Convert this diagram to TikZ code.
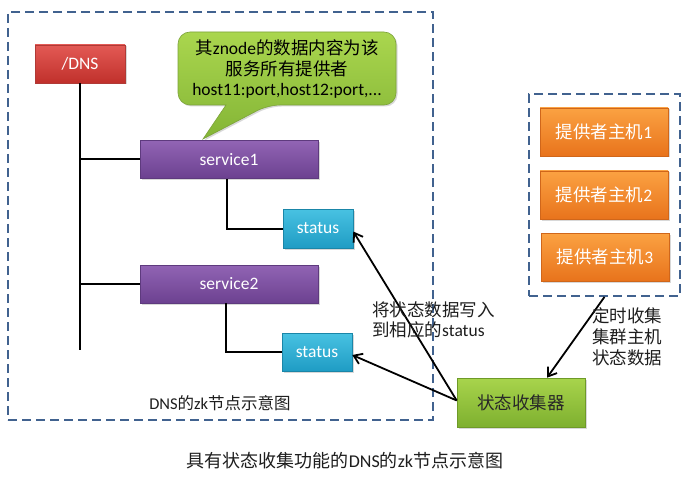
\documentclass[tikz,border=0pt]{standalone}
\usepackage{fontspec}
\setmainfont{Carlito}
\newfontfamily\cjkfont{Noto Sans CJK SC}
\usetikzlibrary{arrows.meta,shadows}
\newcommand\zhs[1]{{\cjkfont #1}}
\definecolor{dashc}{HTML}{41628F}
\tikzset{
  box/.style={draw, line width=0.6pt, inner sep=0pt, text=white,
    font=\fontsize{17.5}{20}\selectfont,
    drop shadow={shadow xshift=1.5pt, shadow yshift=-1.5pt, opacity=0.3}},
  redbox/.style={box, draw={rgb,255:red,176;green,58;blue,54}, top color={rgb,255:red,227;green,90;blue,85}, bottom color={rgb,255:red,192;green,48;blue,43}},
  purplebox/.style={box, draw={rgb,255:red,94;green,58;blue,126}, top color={rgb,255:red,145;green,100;blue,180}, bottom color={rgb,255:red,108;green,65;blue,144}},
  cyanbox/.style={box, draw={rgb,255:red,26;green,134;blue,168}, top color={rgb,255:red,72;green,194;blue,226}, bottom color={rgb,255:red,31;green,156;blue,196}},
  orangebox/.style={box, draw={rgb,255:red,208;green,102;blue,26}, top color={rgb,255:red,251;green,162;blue,66}, bottom color={rgb,255:red,232;green,115;blue,28}},
  greenbox/.style={box, text={rgb,255:red,40;green,40;blue,40}, draw={rgb,255:red,110;green,154;blue,40}, top color={rgb,255:red,168;green,212;blue,76}, bottom color={rgb,255:red,126;green,176;blue,47}},
  calloutshape/.style={draw={rgb,255:red,124;green,163;blue,58}, line width=0.6pt, top color={rgb,255:red,170;green,214;blue,78}, bottom color={rgb,255:red,132;green,181;blue,54},
    drop shadow={shadow xshift=1.5pt, shadow yshift=-1.5pt, opacity=0.3}},
  dashbox/.style={draw=dashc, line width=1.8pt, dash pattern=on 9pt off 5pt, inner sep=0pt},
  conn/.style={line width=2pt},
  arr/.style={line width=1.8pt, -{Straight Barb[length=8pt,width=11pt]}},
  lbl/.style={font=\fontsize{17.5}{20}\selectfont, text={rgb,255:red,30;green,30;blue,30}, inner sep=0pt}
}
\begin{document}
\begin{tikzpicture}[x=1pt,y=-1pt]
\useasboundingbox[fill=white] (0,0) rectangle (690,481);

% dashed frames
\node[dashbox, minimum width=425pt, minimum height=408pt] (leftframe) at (220.5,216) {};
\node[dashbox, minimum width=151pt, minimum height=202pt] (rightframe) at (604.5,195) {};

% tree nodes
\node[redbox, minimum width=90pt, minimum height=38pt] (dns) at (80,64) {/DNS};
\node[purplebox, minimum width=178pt, minimum height=38pt] (s1) at (229,159.5) {service1};
\node[cyanbox, minimum width=70pt, minimum height=39pt] (st1) at (318,228.5) {status};
\node[purplebox, minimum width=178pt, minimum height=38pt] (s2) at (229,284) {service2};
\node[cyanbox, minimum width=70pt, minimum height=38pt] (st2) at (317,352) {status};
\coordinate (busend) at (80,350);

\draw[conn] (dns.south) -- (busend);
\draw[conn] (dns.south |- s1.west) -- (s1.west);
\draw[conn] (dns.south |- s2.west) -- (s2.west);
\draw[conn] ([xshift=-2pt]s1.south) |- (st1.west);
\draw[conn] ([xshift=-3pt]s2.south) |- (st2.west);

% callout
\path[calloutshape] (396,68) [rounded corners=12pt] -- (396,105) -- (268,105) [sharp corners] -- (203,139) -- (226,105) [rounded corners=12pt] -- (178,105) -- (178,32) -- (396,32) -- cycle;
\node[lbl, align=center, text=black, font=\fontsize{17.5}{20}\selectfont] (callout) at (287,69)
  {\zhs{其}znode\zhs{的数据内容为该}\\\zhs{服务所有提供者}\\host11:port,host12:port,...};

% providers
\node[orangebox, minimum width=128pt, minimum height=48pt] (h1) at (604,132) {\zhs{提供者主机}1};
\node[orangebox, minimum width=128pt, minimum height=48pt] (h2) at (604,195) {\zhs{提供者主机}2};
\node[orangebox, minimum width=128pt, minimum height=48pt] (h3) at (605,257) {\zhs{提供者主机}3};

% collector
\node[greenbox, minimum width=128pt, minimum height=49pt] (coll) at (521,402.5) {\zhs{状态收集器}};

\draw[arr] (rightframe.south) -- ([xshift=26pt]coll.north);
\draw[arr] ([yshift=2pt]coll.west) -- ([yshift=-3pt]st1.east);
\draw[arr] ([yshift=2pt]coll.west) -- ([yshift=-3pt]st2.east);

% labels
\node[lbl, anchor=north west, align=left] (writelbl) at (372,302)
  {\zhs{将状态数据写入}\\\zhs{到相应的}status};
\node[lbl, anchor=north west, align=left, font=\fontsize{17.5}{21}\selectfont] (collectlbl) at (592,307)
  {\zhs{定时收集}\\\zhs{集群主机}\\\zhs{状态数据}};
\node[lbl, font=\fontsize{16.5}{19}\selectfont] (framelbl) at (220,403) {DNS\zhs{的}zk\zhs{节点示意图}};
\node[lbl, font=\fontsize{18}{21}\selectfont] (caption) at (345,461) {\zhs{具有状态收集功能的}DNS\zhs{的}zk\zhs{节点示意图}};
\end{tikzpicture}
\end{document}
